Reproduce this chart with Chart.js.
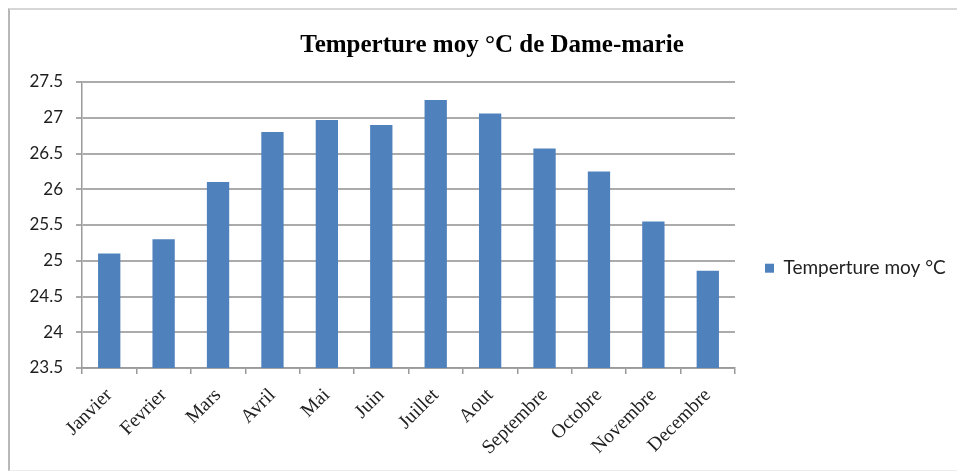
<!DOCTYPE html>
<html>
<head>
<meta charset="utf-8">
<script src="https://cdn.jsdelivr.net/npm/chart.js@4.4.1/dist/chart.umd.min.js"></script>
<style>
  html, body { margin: 0; padding: 0; background: #fff; }
  #wrap { position: relative; width: 957px; height: 472px; overflow: hidden; }
  #frame {
    position: absolute; left: 8px; top: 8px; width: 960px; height: 460px;
    border-left: 2px solid #b8b8b8; border-top: 2px solid #d6d6d6; border-bottom: 1px solid #ececec;
  }
  canvas { position: absolute; left: 0; top: 0; }
</style>
</head>
<body>
<div id="wrap">
  <div id="frame"></div>
  <canvas id="chart" width="957" height="472"></canvas>
</div>
<script>
// Monthly mean temperature, Dame-Marie
const chartTitle = 'Temperture moy °C de Dame-marie';
const seriesName = 'Temperture moy °C';
const months = ['Janvier', 'Fevrier', 'Mars', 'Avril', 'Mai', 'Juin',
                'Juillet', 'Aout', 'Septembre', 'Octobre', 'Novembre', 'Decembre'];
const temperatures = [25.1, 25.3, 26.1, 26.8, 26.97, 26.9, 27.25, 27.06, 26.57, 26.25, 25.55, 24.86];

// value axis range and step
const yMin = 23.5;
const yMax = 27.5;
const yStep = 0.5;

const barBlue = '#4F81BD';
const gridGrey = '#ababab';
const axisGrey = '#9a9a9a';

// give the legend column a fixed width so the plot ends where the legend begins
const LEGEND_WIDTH = 222;
const legendWidth = {
  id: 'legendWidth',
  afterInit(chart) {
    const legend = chart.legend;
    if (!legend) return;
    const fit = legend.fit;
    legend.fit = function () {
      fit.call(this);
      this.width = LEGEND_WIDTH;
    };
  }
};

new Chart(document.getElementById('chart'), {
  type: 'bar',
  data: {
    labels: months,
    datasets: [{
      label: seriesName,
      data: temperatures,
      backgroundColor: barBlue,
      borderWidth: 0,
      barPercentage: 0.41,
      categoryPercentage: 1
    }]
  },
  plugins: [legendWidth],
  options: {
    responsive: false,
    animation: false,
    layout: { padding: { left: 27, right: 0, top: 0, bottom: 0 } },
    plugins: {
      title: {
        display: true,
        text: chartTitle,
        color: '#000',
        font: { family: 'Liberation Serif', size: 25, weight: 'bold' },
        padding: { top: 31, bottom: 21 }
      },
      legend: {
        position: 'right',
        title: { display: true, text: '', padding: { top: 50, bottom: 0 } },
        labels: {
          boxWidth: 9,
          boxHeight: 9,
          padding: 30,
          color: '#222',
          font: { family: 'Lato', size: 19 }
        }
      },
      tooltip: { enabled: false }
    },
    scales: {
      x: {
        grid: { offset: true, drawOnChartArea: false, tickLength: 6, color: axisGrey, lineWidth: 1.5 },
        border: { color: axisGrey, width: 1.5 },
        ticks: {
          minRotation: 45, maxRotation: 45, padding: 10,
          color: '#222',
          font: { family: 'Liberation Serif', size: 19.5 }
        },
        afterFit(scale) { scale.height = 104; }
      },
      y: {
        min: yMin,
        max: yMax,
        ticks: {
          stepSize: yStep,
          padding: 13,
          color: '#1e1e1e',
          font: { family: 'Lato', size: 17 },
          callback: (value) => String(value)
        },
        grid: { color: gridGrey, lineWidth: 2, tickLength: 6 },
        border: { color: axisGrey, width: 1.5 },
        afterFit(scale) { scale.width = 55; }
      }
    }
  }
});
</script>
</body>
</html>
